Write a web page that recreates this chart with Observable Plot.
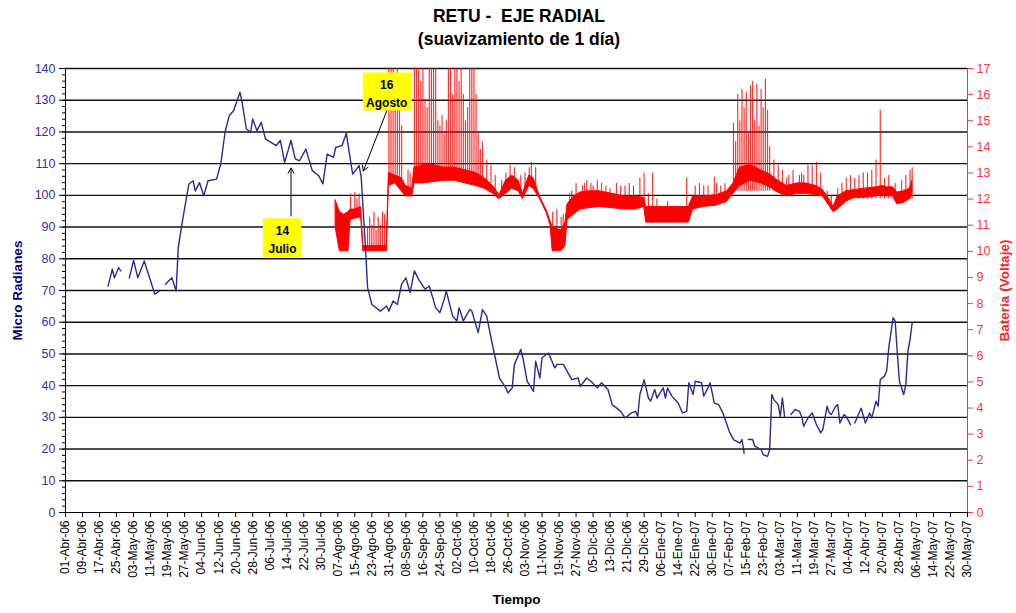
<!DOCTYPE html>
<html><head><meta charset="utf-8">
<script src="https://cdn.jsdelivr.net/npm/d3@7"></script>
<script src="https://cdn.jsdelivr.net/npm/@observablehq/plot@0.6"></script>
<style>
body{margin:0;background:#fff;font-family:"Liberation Sans",Arial,sans-serif;}
#wrap{position:relative;width:1016px;height:613px;overflow:hidden;}
.t{position:absolute;left:0;width:1038px;text-align:center;font-weight:bold;font-size:17.5px;white-space:pre;color:#000;}
#chart{position:absolute;left:0;top:55px;}
</style></head>
<body>
<div id="wrap">
  <div class="t" style="top:6px">RETU -  EJE RADIAL</div>
  <div class="t" style="top:29px">(suavizamiento de 1 día)</div>
  <div id="chart"></div>
</div>
<script>
// ---- Micro Radianes (left axis) ----
const blueDates = ["2006-04-21","2006-04-23","2006-04-24","2006-04-26","2006-04-27","2006-04-29",
"2006-05-01","2006-05-03","2006-05-05","2006-05-08","2006-05-10","2006-05-13","2006-05-15","2006-05-16",
"2006-05-18","2006-05-21","2006-05-23","2006-05-24","2006-05-26","2006-05-29","2006-05-31","2006-06-01","2006-06-03","2006-06-05","2006-06-07","2006-06-11","2006-06-13","2006-06-15","2006-06-17","2006-06-19","2006-06-22","2006-06-23","2006-06-25","2006-06-27","2006-06-28","2006-06-30","2006-07-02","2006-07-04","2006-07-09","2006-07-11","2006-07-13","2006-07-16","2006-07-18","2006-07-20","2006-07-23","2006-07-26","2006-07-29","2006-07-31","2006-08-02","2006-08-05","2006-08-06","2006-08-09","2006-08-11","2006-08-13","2006-08-14","2006-08-17","2006-08-18","2006-08-19","2006-08-20","2006-08-21","2006-08-23","2006-08-27","2006-08-30","2006-08-31","2006-09-02","2006-09-04","2006-09-06","2006-09-08","2006-09-10","2006-09-12","2006-09-14","2006-09-17","2006-09-19","2006-09-22","2006-09-24","2006-09-26","2006-09-27","2006-09-30","2006-10-02","2006-10-03","2006-10-05","2006-10-08","2006-10-09","2006-10-12","2006-10-14","2006-10-16","2006-10-18","2006-10-20","2006-10-22","2006-10-25","2006-10-26","2006-10-28","2006-10-29","2006-11-01","2006-11-02","2006-11-04","2006-11-07","2006-11-08","2006-11-10","2006-11-11","2006-11-14","2006-11-17","2006-11-18","2006-11-21","2006-11-25","2006-11-28","2006-11-29","2006-12-02","2006-12-04","2006-12-07","2006-12-09","2006-12-12","2006-12-14","2006-12-18","2006-12-20","2006-12-23","2006-12-25","2006-12-26","2006-12-27","2006-12-29","2006-12-31","2007-01-01","2007-01-03","2007-01-04","2007-01-07","2007-01-08","2007-01-09","2007-01-11","2007-01-14","2007-01-16","2007-01-18","2007-01-19","2007-01-21","2007-01-22","2007-01-25","2007-01-26","2007-01-28","2007-01-29","2007-01-31","2007-02-02","2007-02-04","2007-02-07","2007-02-09","2007-02-12","2007-02-13","2007-02-14","2007-02-15","2007-02-16","2007-02-18","2007-02-19","2007-02-22","2007-02-23","2007-02-25","2007-02-26","2007-02-27","2007-02-28","2007-03-02","2007-03-03","2007-03-04","2007-03-05","2007-03-06","2007-03-08","2007-03-10","2007-03-12","2007-03-13","2007-03-14","2007-03-16","2007-03-18","2007-03-20","2007-03-22","2007-03-23","2007-03-25","2007-03-26","2007-03-27","2007-03-29","2007-03-30","2007-03-31","2007-04-02","2007-04-03","2007-04-05","2007-04-06","2007-04-07","2007-04-10","2007-04-12","2007-04-14","2007-04-15","2007-04-17","2007-04-18","2007-04-19","2007-04-21","2007-04-22","2007-04-23","2007-04-25","2007-04-26","2007-04-27","2007-04-28","2007-04-30","2007-05-01","2007-05-02","2007-05-03","2007-05-04"];
const blueValues = [71.4,76.7,74,77.2,76.2,null,
74,79.5,74,79.3,75.1,68.8,69.8,null,
72,74,69.8,83.5,92,103.6,104.6,101.4,104,99.9,104.6,105.1,109.9,119.9,125.2,126.7,132.5,129.4,121,119.9,124.1,120.4,123,117.8,115.7,117.3,110.4,117.3,111.5,110.9,114.6,107.8,106.2,103.6,113,112,115.1,115.7,119.6,110.9,106.7,109.4,105.7,94.6,83.5,70.9,65.6,63.5,65.1,63.5,66.7,65.6,72,74,69.3,76.2,73.5,70.4,71.4,64.6,63,67.2,69.8,61.9,60.4,64.6,60.4,64,63.5,56.7,64,61.9,55.1,48.8,42.4,39.3,37.7,39.3,46.7,51.4,48.8,41.4,38.2,47.7,42.4,48.8,50.3,45.6,46.7,46.7,41.9,42.4,39.8,42.4,41.4,39.3,40.9,38.8,34,31.9,29.8,31.4,31.9,30.3,37.2,41.9,36.1,35.1,38.8,36.1,39.3,36.1,39.3,36.7,34.5,31.4,31.9,40.9,37.2,41.4,40.9,36.7,39.3,40.9,34.5,34,31.4,25.6,23,21.9,23,18.7,null,23,23,20.9,19.8,18.2,17.7,19.8,37.2,35.6,34,30.3,36.1,30.3,null,30.9,32.5,31.9,30.3,27.2,29.8,31.4,27.7,25.1,26.2,33.5,31.4,30.9,33.5,34,28.2,30.9,30.3,27.7,null,28.2,32.9,28.2,31.4,29.8,35.1,33.5,41.9,43,44.6,51.9,61.4,60.4,50.3,41.4,37.2,40.4,50.9,54.6,59.8];

// ---- Batería (Voltaje) (right axis): daily range band ----
const redDates = ["2006-08-06","2006-08-08","2006-08-10","2006-08-12","2006-08-13","2006-08-15","2006-08-18","2006-08-19","2006-08-30","2006-08-31","2006-09-03","2006-09-06","2006-09-08","2006-09-11","2006-09-12","2006-09-16","2006-09-21","2006-09-26","2006-10-01","2006-10-06","2006-10-11","2006-10-15","2006-10-19","2006-10-22","2006-10-25","2006-10-28","2006-10-31","2006-11-02","2006-11-05","2006-11-07","2006-11-10","2006-11-13","2006-11-15","2006-11-16","2006-11-20","2006-11-22","2006-11-23","2006-11-26","2006-11-29","2006-12-03","2006-12-08","2006-12-14","2006-12-20","2006-12-25","2006-12-29","2006-12-30","2007-01-05","2007-01-12","2007-01-16","2007-01-19","2007-01-21","2007-01-26","2007-02-01","2007-02-06","2007-02-09","2007-02-12","2007-02-17","2007-02-22","2007-02-26","2007-03-02","2007-03-06","2007-03-11","2007-03-15","2007-03-20","2007-03-23","2007-03-26","2007-03-28","2007-03-30","2007-04-03","2007-04-07","2007-04-12","2007-04-17","2007-04-20","2007-04-22","2007-04-25","2007-04-27","2007-04-30","2007-05-03","2007-05-04"];
const redLow = [10.9,10.0,10.0,10.0,11.2,11.25,11.3,10.0,10.0,12.5,12.6,12.3,12.1,12.1,12.6,12.6,12.65,12.7,12.7,12.6,12.5,12.4,12.2,12.0,12.2,12.4,12.3,12.0,12.5,12.4,12.0,11.5,11.0,10.0,10.0,10.2,11.2,11.4,11.6,11.65,11.7,11.65,11.6,11.6,11.7,11.1,11.1,11.1,11.1,11.1,11.6,11.7,11.75,11.9,12.2,12.5,12.7,12.6,12.45,12.25,12.1,12.2,12.2,12.15,12.1,11.75,11.5,11.6,11.9,12.05,12.05,12.1,12.15,12.1,12.1,11.8,11.85,12.0,12.2];
const redHigh = [11.95,11.5,11.4,11.5,11.6,11.6,11.7,10.2,10.2,13.0,12.9,12.8,12.5,12.4,13.2,13.3,13.3,13.2,13.2,13.1,13.0,12.8,12.5,12.15,12.7,12.9,12.7,12.2,12.9,12.8,12.1,11.6,11.15,10.9,10.8,11.1,11.8,12.1,12.25,12.3,12.3,12.2,12.1,12.1,12.05,11.7,11.7,11.7,11.7,11.7,12.1,12.1,12.15,12.3,12.6,13.2,13.3,13.1,12.95,12.7,12.5,12.6,12.6,12.5,12.35,12.0,11.7,12.1,12.3,12.35,12.4,12.45,12.5,12.45,12.45,12.25,12.3,12.4,12.7];

// ---- Batería peaks ----
const spikeDates = ["2006-08-13","2006-08-15","2006-08-16","2006-08-17",
"2006-08-21","2006-08-22","2006-08-23","2006-08-24","2006-08-25","2006-08-26","2006-08-27","2006-08-28","2006-08-29",
"2006-08-31","2006-09-01","2006-09-02","2006-09-03","2006-09-04","2006-09-05","2006-09-06","2006-09-09","2006-09-10",
"2006-09-12","2006-09-13","2006-09-14","2006-09-15","2006-09-16","2006-09-17","2006-09-18","2006-09-19","2006-09-20","2006-09-21","2006-09-22","2006-09-23","2006-09-24","2006-09-25","2006-09-26","2006-09-27","2006-09-28","2006-09-29","2006-09-30","2006-10-01","2006-10-02","2006-10-03","2006-10-04","2006-10-05","2006-10-06","2006-10-07","2006-10-08","2006-10-09","2006-10-10","2006-10-11","2006-10-12","2006-10-13","2006-10-14","2006-10-16","2006-10-18",
"2006-10-25","2006-10-27","2006-10-29","2006-11-05","2006-11-06",
"2006-11-16","2006-11-18","2006-11-20","2006-11-21",
"2006-11-27","2006-12-01","2006-12-04","2006-12-07","2006-12-11","2006-12-16","2006-12-20","2006-12-24","2006-12-27","2006-12-29","2006-12-31","2007-01-02",
"2007-01-18","2007-01-22","2007-01-24","2007-01-28","2007-01-31","2007-02-03","2007-02-05",
"2007-02-09","2007-02-10","2007-02-11","2007-02-12","2007-02-13","2007-02-14","2007-02-15","2007-02-16","2007-02-17","2007-02-18","2007-02-19","2007-02-20","2007-02-21","2007-02-22","2007-02-23","2007-02-24","2007-02-25","2007-02-26","2007-02-28","2007-03-02",
"2007-03-04","2007-03-07","2007-03-09","2007-03-12","2007-03-13","2007-03-16","2007-03-18","2007-03-20","2007-03-22",
"2007-03-30","2007-04-01","2007-04-03","2007-04-05","2007-04-07","2007-04-09","2007-04-11","2007-04-13","2007-04-15","2007-04-17","2007-04-19","2007-04-21","2007-04-23","2007-04-26","2007-04-29","2007-05-01","2007-05-03","2007-05-04",
"2006-10-20","2006-10-23","2006-11-01","2006-11-03","2006-11-08",
"2006-11-24","2006-11-25","2006-11-30","2006-12-02","2006-12-05","2006-12-09","2006-12-13","2006-12-18","2006-12-22",
"2007-01-04","2007-01-09","2007-01-26","2007-02-01","2007-03-25","2007-03-27","2007-03-06","2007-03-14"];
const spikeFrom = [11.5,11.5,11.5,11.5,
10.1,10.1,10.1,10.1,10.1,10.1,10.1,10.1,10.1,
12.6,12.6,12.6,12.6,12.6,12.5,12.4,12.2,12.2,
12.8,12.8,12.8,12.8,12.8,12.8,12.8,12.8,12.8,12.8,12.8,12.8,12.8,12.8,12.8,12.8,12.8,12.8,12.8,12.8,12.8,12.8,12.8,12.8,12.8,12.8,12.8,12.8,12.8,12.8,12.6,12.6,12.6,12.6,12.6,
12.5,12.5,12.5,12.5,12.5,
10.1,10.1,10.1,10.1,
11.8,11.8,11.8,11.8,11.8,11.8,11.8,11.8,11.8,11.8,11.3,11.3,
11.3,11.8,11.8,11.8,11.8,11.8,11.8,
12.3,12.3,12.3,12.3,12.3,12.3,12.3,12.3,12.3,12.3,12.3,12.3,12.3,12.3,12.3,12.3,12.3,12.3,12.3,12.3,
12.2,12.2,12.2,12.2,12.2,12.2,12.2,12.2,12.2,
11.7,12.0,12.0,12.0,12.0,12.0,12.0,12.0,12.0,12.0,12.0,12.0,12.0,12.0,12.0,12.0,12.0,12.0,
12.3,12.1,12.2,12.2,12.3,
11.3,11.4,11.8,11.8,11.8,11.8,11.8,11.8,11.8,
11.3,11.3,11.8,11.8,11.8,11.6,12.2,12.2];
const spikeTo = [12.2,12.25,12.0,12.2,
10.9,11.3,11.0,11.5,10.8,11.3,11.0,11.5,11.4,
17.5,17.5,17.5,16.5,17.5,15.5,14.8,13.1,13.0,
17.5,17.5,17.5,16.5,17.5,15.8,15.5,17.5,17.5,17.5,17.5,15.0,14.8,15.2,14.5,15.0,17.5,17.5,16.0,17.5,17.5,16.5,17.5,16.0,15.0,15.5,17.5,17.5,17.5,16.0,14.5,13.9,14.2,13.5,13.3,
13.0,13.3,13.2,13.2,13.4,
11.5,11.6,11.3,11.4,
12.6,12.6,12.6,12.7,12.5,12.6,12.5,12.5,12.8,13.0,12.2,13.0,
12.8,12.5,12.6,12.5,12.85,12.5,12.6,
14.9,14.2,16.0,15.0,16.2,15.5,16.1,14.5,16.35,16.5,15.0,16.4,14.8,16.2,15.5,16.6,15.4,14.0,13.5,13.3,
13.1,12.9,13.1,12.9,13.0,13.3,13.3,13.4,13.0,
12.4,12.6,12.8,12.9,12.8,12.9,13.0,13.0,13.1,13.5,15.4,12.8,12.9,12.6,12.7,12.9,13.1,13.2,
12.9,12.7,12.9,13.0,13.2,
12.2,12.3,12.5,12.7,12.5,12.6,12.4,12.5,12.6,
12.0,11.9,12.5,12.6,12.3,12.1,12.8,12.9];

// ---- axes ----
const leftTicks = [0,10,20,30,40,50,60,70,80,90,100,110,120,130,140];
const leftMinor = d3.range(0, 141, 2);
const rightTicks = [0,1,2,3,4,5,6,7,8,9,10,11,12,13,14,15,16,17];
const monthNames = ["Ene","Feb","Mar","Abr","May","Jun","Jul","Ago","Sep","Oct","Nov","Dic"];
const xStartStr = "2006-04-01", xEndStr = "2007-05-30";

// ---- annotations ----
const boxLabels = ["14\nJulio", "16\nAgosto"];
const boxX1 = ["2006-07-03", "2006-08-19"], boxX2 = ["2006-07-21", "2006-09-11"];
const boxY1 = [80.3, 126.6], boxY2 = [92.6, 138.6];
const boxTX = ["2006-07-12", "2006-08-30"], boxTY = [86.6, 132.6];
const arrX1 = ["2006-07-16", "2006-08-30"], arrY1 = [93.5, 126.6];
const arrX2 = ["2006-07-16", "2006-08-19"], arrY2 = [108.6, 107.7];

const parse = d3.utcParse("%Y-%m-%d");
const k = 140 / 17;
const blue = blueDates.map((d, i) => ({date: parse(d), v: blueValues[i]}));
const red = redDates.map((d, i) => ({date: parse(d), low: redLow[i], high: redHigh[i]}));
const spikes = spikeDates.map((d, i) => ({date: parse(d), from: spikeFrom[i], to: spikeTo[i]}));
const boxes = boxLabels.map((t, i) => ({t, x1: parse(boxX1[i]), x2: parse(boxX2[i]), y1: boxY1[i], y2: boxY2[i], tx: parse(boxTX[i]), ty: boxTY[i]}));
const arrows = arrX1.map((d, i) => ({x1: parse(d), y1: arrY1[i], x2: parse(arrX2[i]), y2: arrY2[i]}));
const xStart = parse(xStartStr), xEnd = parse(xEndStr);
const xTicks = d3.range(0, 425, 8).map(i => d3.utcDay.offset(xStart, i));
const fmt = d => `${String(d.getUTCDate()).padStart(2, "0")}-${monthNames[d.getUTCMonth()]}-${String(d.getUTCFullYear()).slice(2)}`;
const FONT = "'Liberation Sans', Arial, sans-serif";

const chart = Plot.plot({
  width: 1016, height: 558,
  marginTop: 13, marginBottom: 101, marginLeft: 65, marginRight: 49,
  style: {fontFamily: FONT, background: "white", overflow: "visible"},
  x: {type: "utc", domain: [xStart, xEnd], axis: null},
  y: {domain: [0, 140], axis: null},
  marks: [
    Plot.ruleY(leftTicks.filter(v => v > 0), {stroke: "#111", strokeWidth: 1.4}),
    Plot.areaY(red, {x: "date", y1: d => d.low * k, y2: d => d.high * k, fill: "#ff0000", stroke: "#ff0000", strokeWidth: 1, curve: "linear"}),
    Plot.ruleX(spikes, {x: "date", y1: d => d.from * k, y2: d => d.to * k, stroke: "#ff0000", strokeWidth: 1.2, strokeOpacity: 0.8, clip: true}),
    Plot.lineY(blue, {x: "date", y: "v", stroke: "#2a2a94", strokeWidth: 1.4}),
    Plot.ruleX([xStart], {stroke: "black"}),
    Plot.ruleX([xEnd], {stroke: "#ff3030"}),
    Plot.ruleY([0], {stroke: "black"}),
    Plot.axisY(leftMinor, {anchor: "left", tickSize: 3, tickFormat: () => "", label: null, stroke: "black"}),
    Plot.axisY(leftTicks, {anchor: "left", tickSize: 6, tickPadding: 4, fontSize: 12.5, color: "#3333a0", stroke: "black", label: null}),
    Plot.axisY(rightTicks.map(v => v * k), {anchor: "right", tickSize: 5, tickPadding: 4, fontSize: 12.5, color: "#ff3333", tickFormat: d => Math.round(d / k), label: null}),
    Plot.axisX(xTicks, {anchor: "bottom", tickFormat: fmt, tickRotate: -90, tickSize: 5, tickPadding: 3, fontSize: 12, color: "black", label: null}),
    Plot.text(["Micro Radianes"], {frameAnchor: "left", textAnchor: "middle", dx: -48, rotate: -90, fill: "#000080", fontWeight: "bold", fontSize: 13.5}),
    Plot.text(["Batería (Voltaje)"], {frameAnchor: "right", textAnchor: "middle", dx: 37, rotate: -90, fill: "#ff2020", fontWeight: "bold", fontSize: 13.5}),
    Plot.text(["Tiempo"], {frameAnchor: "bottom", dy: 91, fill: "black", fontWeight: "bold", fontSize: 13.5}),
    Plot.rect(boxes, {x1: "x1", x2: "x2", y1: "y1", y2: "y2", fill: "#ffff00"}),
    Plot.text(boxes, {x: "tx", y: "ty", text: "t", fontWeight: "bold", fontSize: 12, lineHeight: 1.55, fill: "black"}),
    Plot.arrow(arrows, {x1: "x1", y1: "y1", x2: "x2", y2: "y2", stroke: "black", strokeWidth: 1, headLength: 9})
  ]
});
document.getElementById("chart").appendChild(chart);
</script>
</body></html>
